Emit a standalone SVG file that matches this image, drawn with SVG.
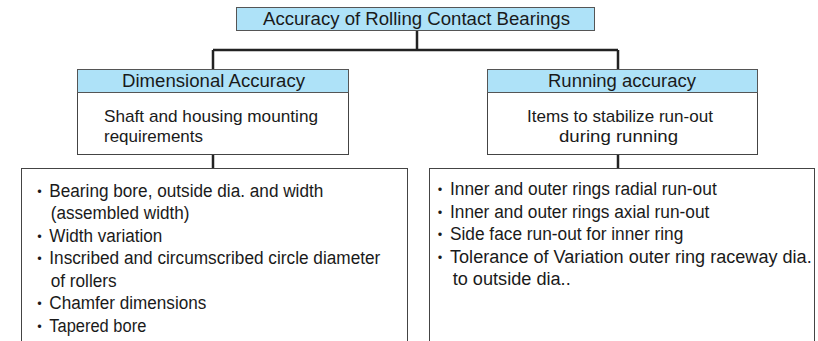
<svg xmlns="http://www.w3.org/2000/svg" width="818" height="341" viewBox="0 0 818 341">
<style>
.hdr{fill:#aee2f8;stroke:#555;stroke-width:1}
.box{fill:#fff;stroke:#444;stroke-width:1}
.conn{stroke:#222;stroke-width:2.5;fill:none}
text{font-family:"Liberation Sans",Arial,sans-serif;fill:#1a1a1a}
.h{font-size:17.5px;text-anchor:middle}
.b{font-size:18px}
.m{font-size:17px}
.c{font-size:17px;text-anchor:middle}
.dot{font-family:"Noto Sans CJK JP",sans-serif;font-size:16px;text-anchor:middle}
</style>
<rect width="818" height="341" fill="#fff"/>
<g id="connectors">
<path class="conn" d="M417 30.5V50M213 50H618M213 50V69M618 50V69M213 154V168M618 154V168"/>
</g>
<g id="root">
<rect class="hdr" x="236.5" y="7.5" width="358" height="23"/>
<text class="h" x="416.5" y="25" textLength="307" lengthAdjust="spacingAndGlyphs">Accuracy of Rolling Contact Bearings</text>
</g>
<g id="dimensional">
<rect class="box" x="77.5" y="69.5" width="271" height="85"/>
<rect class="hdr" x="77.5" y="69.5" width="271" height="23"/>
<text class="h" x="213.5" y="86.5" textLength="183" lengthAdjust="spacingAndGlyphs">Dimensional Accuracy</text>
<text class="m" x="104" y="122" textLength="214" lengthAdjust="spacingAndGlyphs">Shaft and housing mounting</text>
<text class="m" x="104" y="141.5" textLength="99" lengthAdjust="spacingAndGlyphs">requirements</text>
</g>
<g id="running">
<rect class="box" x="487.5" y="69.5" width="270" height="85"/>
<rect class="hdr" x="487.5" y="69.5" width="270" height="23"/>
<text class="h" x="622" y="86.5" textLength="148" lengthAdjust="spacingAndGlyphs">Running accuracy</text>
<text class="c" x="620" y="122" textLength="186" lengthAdjust="spacingAndGlyphs">Items to stabilize run-out</text>
<text class="c" x="618.5" y="141.5" textLength="119" lengthAdjust="spacingAndGlyphs">during running</text>
</g>
<g id="dimensional-items">
<rect class="box" x="21.5" y="168.5" width="386" height="180"/>
<text class="dot" x="39.5" y="196.5">・</text>
<text class="b" x="49.3" y="196.5" textLength="274" lengthAdjust="spacingAndGlyphs">Bearing bore, outside dia. and width</text>
<text class="b" x="50.7" y="219" textLength="138.7" lengthAdjust="spacingAndGlyphs">(assembled width)</text>
<text class="dot" x="39.5" y="241.5">・</text>
<text class="b" x="49.3" y="241.5" textLength="113" lengthAdjust="spacingAndGlyphs">Width variation</text>
<text class="dot" x="39.5" y="264">・</text>
<text class="b" x="49.3" y="264" textLength="331" lengthAdjust="spacingAndGlyphs">Inscribed and circumscribed circle diameter</text>
<text class="b" x="50.7" y="286.5" textLength="66" lengthAdjust="spacingAndGlyphs">of rollers</text>
<text class="dot" x="39.5" y="309">・</text>
<text class="b" x="49.3" y="309" textLength="157" lengthAdjust="spacingAndGlyphs">Chamfer dimensions</text>
<text class="dot" x="39.5" y="331.5">・</text>
<text class="b" x="49.3" y="331.5" textLength="97" lengthAdjust="spacingAndGlyphs">Tapered bore</text>
</g>
<g id="running-items">
<rect class="box" x="429.5" y="168.5" width="385" height="180"/>
<text class="dot" x="440" y="195">・</text>
<text class="b" x="450" y="195" textLength="266.7" lengthAdjust="spacingAndGlyphs">Inner and outer rings radial run-out</text>
<text class="dot" x="440" y="217.5">・</text>
<text class="b" x="450" y="217.5" textLength="259.3" lengthAdjust="spacingAndGlyphs">Inner and outer rings axial run-out</text>
<text class="dot" x="440" y="240">・</text>
<text class="b" x="450" y="240" textLength="233.3" lengthAdjust="spacingAndGlyphs">Side face run-out for inner ring</text>
<text class="dot" x="440" y="262.5">・</text>
<text class="b" x="450" y="262.5" textLength="361.7" lengthAdjust="spacingAndGlyphs">Tolerance of Variation outer ring raceway dia.</text>
<text class="b" x="452.7" y="285" textLength="118" lengthAdjust="spacingAndGlyphs">to outside dia..</text>
</g>
</svg>
